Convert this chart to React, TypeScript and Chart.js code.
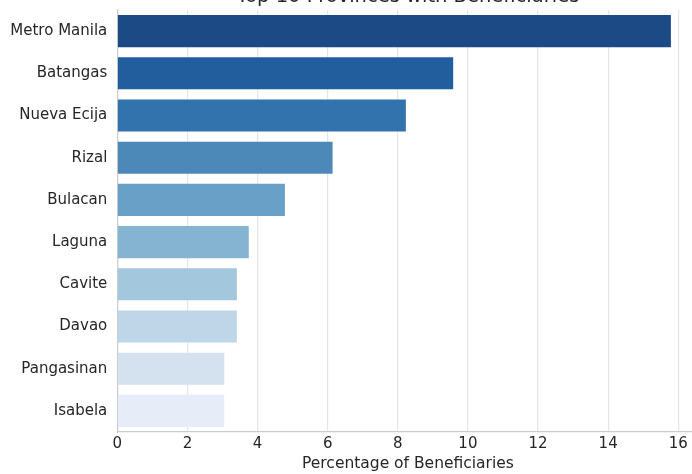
import React, { useEffect, useRef } from "react";
import { Chart, registerables } from "chart.js";

Chart.register(...registerables);

const provinces = [
  "Metro Manila",
  "Batangas",
  "Nueva Ecija",
  "Rizal",
  "Bulacan",
  "Laguna",
  "Cavite",
  "Davao",
  "Pangasinan",
  "Isabela",
];
const percentages = [15.79, 9.58, 8.23, 6.14, 4.78, 3.75, 3.41, 3.41, 3.05, 3.05];
const barColors = [
  "#1c4a85",
  "#225e9e",
  "#3272ad",
  "#4c88b8",
  "#68a0c8",
  "#85b4d3",
  "#a3c8de",
  "#bfd6e9",
  "#d4e2ef",
  "#e6edf8",
];
const xTickValues = [0, 2, 4, 6, 8, 10, 12, 14, 16];
const xMax = 16.58;
const chartTitle = "Top 10 Provinces with Beneficiaries";
const xAxisTitle = "Percentage of Beneficiaries";

const FONT = "'DejaVu Sans', sans-serif";
const TEXT = "#262626";

export default function App() {
  const ref = useRef<HTMLCanvasElement>(null);
  useEffect(() => {
    const canvas = ref.current!;
    const chart = new Chart(canvas, {
      type: "bar",
      data: {
        labels: provinces,
        datasets: [
          {
            data: percentages,
            backgroundColor: barColors,
            borderWidth: 0,
            barPercentage: 0.76,
            categoryPercentage: 1,
          },
        ],
      },
      options: {
        indexAxis: "y",
        responsive: false,
        animation: false,
        devicePixelRatio: 1,
        layout: { padding: { top: 0, right: 39.4, bottom: 0, left: 0 } },
        plugins: {
          legend: { display: false },
          tooltip: { enabled: false },
          title: {
            display: true,
            text: chartTitle,
            fullSize: false,
            color: TEXT,
            font: { family: FONT, size: 19.5, weight: "normal" },
            padding: { top: 5, bottom: 1.6 },
          },
        },
        scales: {
          x: {
            type: "linear",
            position: "bottom",
            min: 0,
            max: xMax,
            afterBuildTicks: (s: any) => {
              s.ticks = xTickValues.map((v) => ({ value: v }));
            },
            afterFit: (s: any) => {
              s.height = 42;
            },
            grid: { color: "#e6e6e6", lineWidth: 1.2, drawTicks: false },
            border: { display: true, color: "#cccccc", width: 1.2 },
            ticks: { font: { family: FONT, size: 15 }, color: TEXT, padding: 3 },
            title: {
              display: true,
              text: xAxisTitle,
              color: TEXT,
              font: { family: FONT, size: 15.5 },
              padding: { top: 0, bottom: 0.7 },
            },
          },
          y: {
            type: "category",
            afterFit: (s: any) => {
              s.width = 117.3;
            },
            grid: { display: false, drawTicks: false },
            border: { display: true, color: "#cccccc", width: 1.2 },
            ticks: { font: { family: FONT, size: 15 }, color: TEXT, padding: 10 },
          },
        },
      },
    } as any);
    return () => chart.destroy();
  }, []);
  return (
    <div
      style={{
        position: "fixed",
        left: 0,
        top: 0,
        width: 692,
        height: 474,
        overflow: "hidden",
        background: "#fff",
      }}
    >
      <canvas
        ref={ref}
        width={738}
        height={494}
        style={{ position: "absolute", left: 0, top: -20 }}
      />
    </div>
  );
}
